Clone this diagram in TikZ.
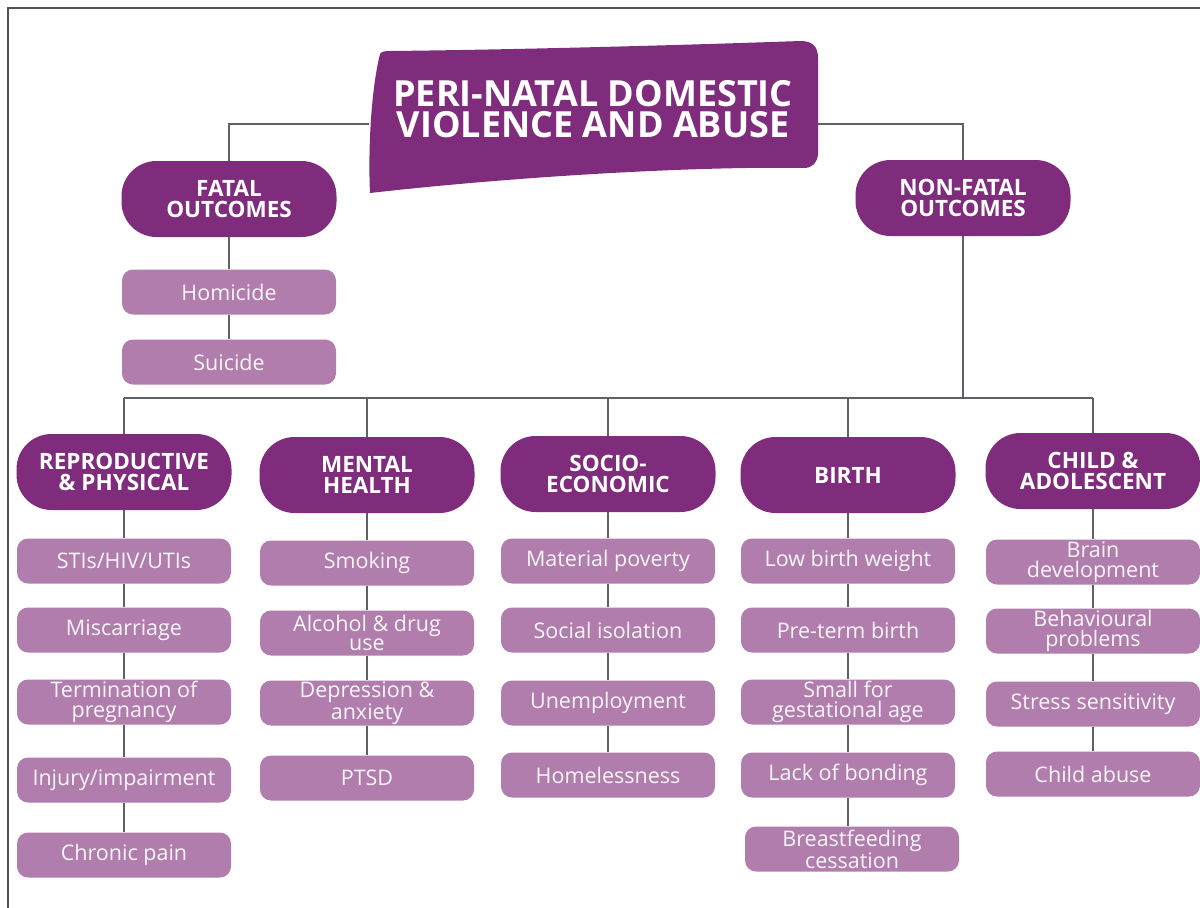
\documentclass[tikz,border=0pt]{standalone}
\usepackage{fontspec}
\setmainfont{Open Sans}
\usepackage{tikz}
\usetikzlibrary{backgrounds}

\definecolor{plum}{HTML}{7E2C7B}
\definecolor{lilac}{HTML}{B07DAD}
\definecolor{linegray}{HTML}{5E6268}
\definecolor{framegray}{HTML}{4E535A}

\tikzset{
 titlebox/.style={text=white,font=\bfseries\fontsize{36}{31.5}\selectfont,align=center,
   minimum width=448pt,inner sep=0pt},
 catbox/.style={rectangle,rounded corners=35pt,fill=plum,text=white,
   font=\bfseries\fontsize{22.5}{20.5}\selectfont,align=center,
   minimum width=215pt,minimum height=76pt,inner sep=0pt},
 itembox/.style={rectangle,rounded corners=11pt,fill=lilac,text=white!93!lilac,
   font=\fontsize{21.5}{19.5}\selectfont,align=center,
   minimum width=214pt,minimum height=45pt,inner sep=0pt},
 conn/.style={linegray,line width=1.5pt},
}

\begin{document}
\begin{tikzpicture}[x=1pt,y=-1pt]
 \useasboundingbox (0,0) rectangle (1200,908);
 \draw[framegray,line width=2pt] (1200,8) -- (8,8) -- (8,908);
 % title blob
 \fill[plum] (380,54) .. controls (371,90) and (368,150) .. (370,193)
   .. controls (520,176) and (700,166) .. (806,168)
   .. controls (816,166) and (819,158) .. (818,148)
   -- (818,58) .. controls (818,46) and (812,41) .. (800,41)
   .. controls (660,46) and (490,50) .. (390,51)
   .. controls (384,51) and (381,52) .. (380,54) -- cycle;
 \node[titlebox] (title) at (593,109) {PERI-NATAL DOMESTIC\\VIOLENCE AND ABUSE};
 % outcomes
 \node[catbox] (fatal) at (229,199) {FATAL\\OUTCOMES};
 \node[catbox] (nonfatal) at (963,198) {NON-FATAL\\OUTCOMES};
 \node[itembox] (homicide) at (229,292) {Homicide};
 \node[itembox] (suicide) at (229,362) {Suicide};
 \coordinate (bus) at (963,398);
 % categories
 \node[catbox] (repro) at (124,472) {REPRODUCTIVE\\\& PHYSICAL};
 \node[catbox] (mental) at (367,475) {MENTAL\\HEALTH};
 \node[catbox] (socio) at (608,474) {SOCIO-\\ECONOMIC};
 \node[catbox] (birth) at (848,475) {BIRTH};
 \node[catbox] (child) at (1093,471) {CHILD \&\\ADOLESCENT};
 % reproductive & physical
 \node[itembox] (sti) at (124,561) {STIs/HIV/UTIs};
 \node[itembox] (miscar) at (124,630) {Miscarriage};
 \node[itembox] (termin) at (124,702) {Termination of\\pregnancy};
 \node[itembox] (injury) at (124,780) {Injury/impairment};
 \node[itembox] (pain) at (124,855) {Chronic pain};
 % mental health
 \node[itembox] (smoking) at (367,563) {Smoking};
 \node[itembox] (alcohol) at (367,633) {Alcohol \& drug\\use};
 \node[itembox] (depress) at (367,703) {Depression \&\\anxiety};
 \node[itembox] (ptsd) at (367,778) {PTSD};
 % socio-economic
 \node[itembox] (poverty) at (608,561) {Material poverty};
 \node[itembox] (isolation) at (608,630) {Social isolation};
 \node[itembox] (unemploy) at (608,703) {Unemployment};
 \node[itembox] (homeless) at (608,775) {Homelessness};
 % birth
 \node[itembox] (lowbw) at (848,561) {Low birth weight};
 \node[itembox] (preterm) at (848,630) {Pre-term birth};
 \node[itembox] (small) at (848,702) {Small for\\gestational age};
 \node[itembox] (bonding) at (848,775) {Lack of bonding};
 \node[itembox] (breast) at (852,849) {Breastfeeding\\cessation};
 % child & adolescent
 \node[itembox] (brain) at (1093,562) {Brain\\development};
 \node[itembox] (behav) at (1093,631) {Behavioural\\problems};
 \node[itembox] (stress) at (1093,704) {Stress sensitivity};
 \node[itembox] (abuse) at (1093,774) {Child abuse};
 % connectors
 \begin{scope}[on background layer]
  \draw[conn] ([yshift=-15pt]title.west) -| (fatal);
  \draw[conn] ([yshift=-15pt]title.east) -| (nonfatal);
  \draw[conn] (fatal) -- (homicide) -- (suicide);
  \draw[conn] (nonfatal) -- (bus);
  \draw[conn] (repro |- bus) -- (child |- bus);
  \foreach \n in {repro,mental,socio,birth,child}
   \draw[conn] (\n |- bus) -- (\n);
  \draw[conn] (repro) -- (sti) -- (miscar) -- (termin) -- (injury) -- (pain);
  \draw[conn] (mental) -- (smoking) -- (alcohol) -- (depress) -- (ptsd);
  \draw[conn] (socio) -- (poverty) -- (isolation) -- (unemploy) -- (homeless);
  \draw[conn] (birth) -- (lowbw) -- (preterm) -- (small) -- (bonding) -- (bonding |- breast.north);
  \draw[conn] (child) -- (brain) -- (behav) -- (stress) -- (abuse);
 \end{scope}
\end{tikzpicture}
\end{document}
